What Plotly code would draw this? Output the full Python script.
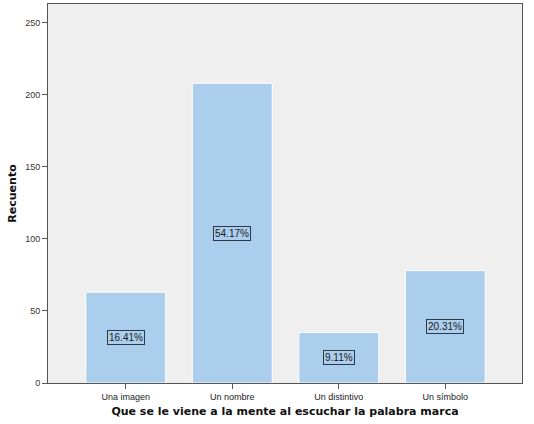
import plotly.graph_objects as go

categories = ["Una imagen", "Un nombre", "Un distintivo", "Un símbolo"]
counts = [63, 208, 35, 78]
percent_labels = ["16.41%", "54.17%", "9.11%", "20.31%"]
y_ticks = [0, 50, 100, 150, 200, 250]

fig = go.Figure()
fig.add_trace(go.Bar(
    x=categories, y=counts,
    marker=dict(color="rgb(172,206,237)", line=dict(color="white", width=1)),
    width=0.75,
))

for c, v, p in zip(categories, counts, percent_labels):
    fig.add_annotation(
        x=c, y=v / 2, text=p, showarrow=False,
        font=dict(family="Liberation Sans, Arial", size=10, color="#1a1a1a"),
        bordercolor="#2b3a4a", borderwidth=1, borderpad=1,
        bgcolor="rgba(0,0,0,0)",
    )

fig.update_layout(
    width=534, height=424,
    margin=dict(l=48, r=12, t=4, b=41),
    paper_bgcolor="white",
    plot_bgcolor="#efefef",
    showlegend=False,
    font=dict(family="Liberation Sans, Arial", size=9, color="#333333"),
    xaxis=dict(
        range=[-0.73, 3.72],
        showline=True, linecolor="#555555", linewidth=1, mirror=True,
        ticks="outside", ticklen=5, tickcolor="#555555",
        tickfont=dict(size=9, color="#222222"),
        title=dict(text="<b>Que se le viene a la mente al escuchar la palabra marca</b>",
                   font=dict(family="DejaVu Sans", size=11, color="#111111"), standoff=6),
        showgrid=False,
    ),
    yaxis=dict(
        range=[0, 263],
        tickvals=y_ticks,
        showline=True, linecolor="#555555", linewidth=1, mirror=True,
        ticks="outside", ticklen=5, tickcolor="#555555",
        tickfont=dict(size=9, color="#333333"),
        title=dict(text="<b>Recuento</b>", font=dict(family="DejaVu Sans", size=11, color="#111111"), standoff=6),
        showgrid=False, zeroline=False,
    ),
)

fig.write_html("out.html")
